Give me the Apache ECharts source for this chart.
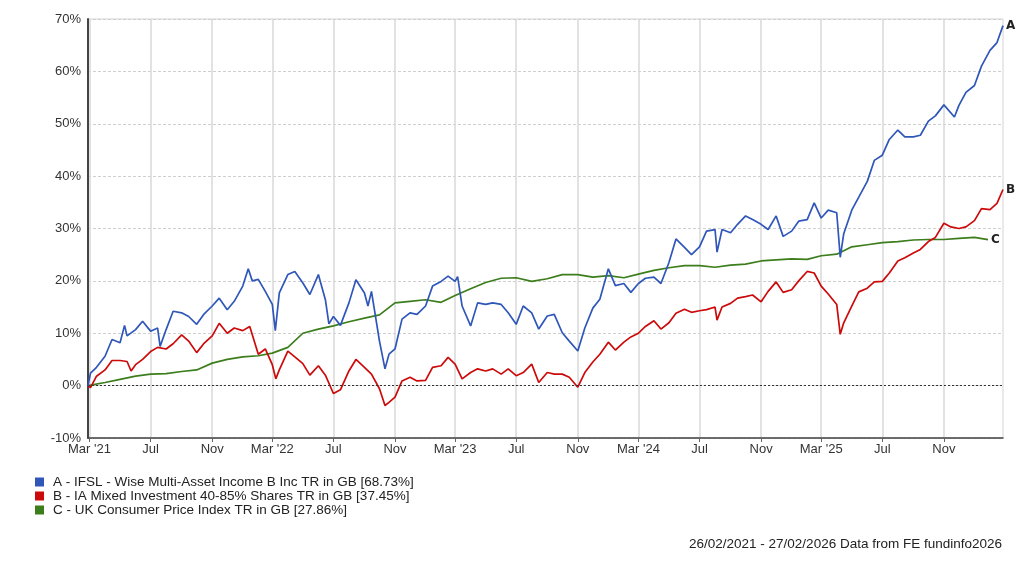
<!DOCTYPE html>
<html><head><meta charset="utf-8">
<script src="https://cdn.jsdelivr.net/npm/echarts@6/dist/echarts.min.js"></script>
<style>html,body{margin:0;padding:0;background:#fff}#c{width:1024px;height:563px}</style>
</head><body><div id="c"></div>
<script>
const seriesNames = [
  'A - IFSL - Wise Multi-Asset Income B Inc TR in GB [68.73%]',
  'B - IA Mixed Investment 40-85% Shares TR in GB [37.45%]',
  'C - UK Consumer Price Index TR in GB [27.86%]'
];
const endLetters = ['A', 'B', 'C'];
const footerText = '26/02/2021 - 27/02/2026 Data from FE fundinfo2026';

const datesA = ['2021-02-26','2021-03-03','2021-03-15','2021-04-01','2021-04-15','2021-05-01','2021-05-10','2021-05-15','2021-06-01','2021-06-15','2021-07-01','2021-07-15','2021-07-20','2021-08-01','2021-08-15','2021-09-01','2021-09-15','2021-10-01','2021-10-15','2021-11-01','2021-11-15','2021-12-01','2021-12-15','2022-01-01','2022-01-12','2022-01-20','2022-02-01','2022-02-15','2022-03-01','2022-03-07','2022-03-15','2022-04-01','2022-04-15','2022-05-01','2022-05-15','2022-06-01','2022-06-15','2022-06-22','2022-07-01','2022-07-15','2022-08-01','2022-08-15','2022-09-01','2022-09-08','2022-09-15','2022-10-01','2022-10-12','2022-10-20','2022-11-01','2022-11-15','2022-12-01','2022-12-15','2023-01-01','2023-01-15','2023-02-01','2023-02-15','2023-03-01','2023-03-06','2023-03-15','2023-04-01','2023-04-15','2023-05-01','2023-05-15','2023-06-01','2023-06-15','2023-07-01','2023-07-15','2023-08-01','2023-08-15','2023-09-01','2023-09-15','2023-10-01','2023-10-15','2023-11-01','2023-11-15','2023-12-01','2023-12-15','2024-01-01','2024-01-15','2024-02-01','2024-02-15','2024-03-01','2024-03-15','2024-04-01','2024-04-15','2024-05-01','2024-05-15','2024-06-01','2024-06-15','2024-07-01','2024-07-15','2024-08-01','2024-08-05','2024-08-15','2024-09-01','2024-09-15','2024-10-01','2024-10-15','2024-11-01','2024-11-15','2024-12-01','2024-12-15','2025-01-01','2025-01-15','2025-02-01','2025-02-15','2025-03-01','2025-03-15','2025-04-01','2025-04-08','2025-04-15','2025-05-01','2025-05-15','2025-06-01','2025-06-15','2025-07-01','2025-07-15','2025-08-01','2025-08-15','2025-09-01','2025-09-15','2025-10-01','2025-10-15','2025-11-01','2025-11-22','2025-12-01','2025-12-15','2026-01-01','2026-01-15','2026-02-01','2026-02-15','2026-02-27'];
const valuesA = [0,2.4,3.5,5.6,8.8,8.2,11.5,9.5,10.7,12.3,10.4,11,7.5,10.7,14.2,13.9,13.2,11.7,13.6,15.2,16.7,14.5,16.1,19,22.3,20,20.3,18,15.5,10.5,17.7,21.2,21.8,19.6,17.4,21.2,16.4,11.8,13.2,11.5,15.8,20.2,17.7,15.2,18,8.5,3.2,6,7,12.7,13.9,13.6,15.2,19,19.9,20.9,19.9,20.8,15.2,11.4,15.8,15.5,15.8,15.5,13.9,11.7,15.2,13.9,10.8,13.3,13.6,10.1,8.5,6.6,11,14.8,16.5,22.3,19.1,19.5,17.8,19.5,20.5,20.7,19.5,23.5,28,26.4,25,26.5,29.5,29.8,25.5,29.8,29.2,30.8,32.4,31.7,30.8,29.8,32.4,28.5,29.5,31.4,31.7,34.9,32,33.5,33,24.5,29,33.5,36,39,43,44,47,48.8,47.5,47.5,47.8,50.5,51.5,53.6,51.3,53.5,56,57.3,61,64,65.5,68.73];

const datesB = ['2021-02-26','2021-03-03','2021-03-15','2021-04-01','2021-04-15','2021-05-01','2021-05-15','2021-05-23','2021-06-01','2021-06-15','2021-07-01','2021-07-15','2021-08-01','2021-08-15','2021-09-01','2021-09-15','2021-10-01','2021-10-15','2021-11-01','2021-11-15','2021-12-01','2021-12-15','2022-01-01','2022-01-15','2022-02-01','2022-02-15','2022-03-01','2022-03-08','2022-03-15','2022-04-01','2022-04-15','2022-05-01','2022-05-15','2022-06-01','2022-06-15','2022-07-01','2022-07-15','2022-08-01','2022-08-15','2022-09-01','2022-09-15','2022-10-01','2022-10-12','2022-10-20','2022-11-01','2022-11-15','2022-12-01','2022-12-15','2023-01-01','2023-01-15','2023-02-01','2023-02-15','2023-03-01','2023-03-15','2023-04-01','2023-04-15','2023-05-01','2023-05-15','2023-06-01','2023-06-15','2023-07-01','2023-07-15','2023-08-01','2023-08-15','2023-09-01','2023-09-15','2023-10-01','2023-10-15','2023-11-01','2023-11-15','2023-12-01','2023-12-15','2024-01-01','2024-01-15','2024-02-01','2024-02-15','2024-03-01','2024-03-15','2024-04-01','2024-04-15','2024-05-01','2024-05-15','2024-06-01','2024-06-15','2024-07-01','2024-07-15','2024-08-01','2024-08-05','2024-08-15','2024-09-01','2024-09-15','2024-10-01','2024-10-15','2024-11-01','2024-11-15','2024-12-01','2024-12-15','2025-01-01','2025-01-15','2025-02-01','2025-02-15','2025-03-01','2025-03-15','2025-04-01','2025-04-08','2025-04-15','2025-05-01','2025-05-15','2025-06-01','2025-06-15','2025-07-01','2025-07-15','2025-08-01','2025-08-15','2025-09-01','2025-09-15','2025-10-01','2025-10-15','2025-11-01','2025-11-15','2025-12-01','2025-12-15','2026-01-01','2026-01-15','2026-02-01','2026-02-15','2026-02-27'];
const valuesB = [0,-0.4,1.8,3,4.8,4.8,4.6,2.8,4,5,6.5,7.3,7,8,9.7,8.5,6.3,8,9.5,11.9,10,11,10.5,11.3,6,7,4,1.3,3,6.6,5.5,4.2,2,3.8,2,-1.5,-0.8,2.8,5,3.5,2.2,-0.6,-3.8,-3.2,-2.2,0.9,1.6,0.9,1,3.5,3.8,5.4,4.1,1.3,2.5,3.2,2.8,3.2,2.2,3.2,1.9,2.5,4.1,0.6,2.5,2.2,2.2,1.6,-0.3,2.5,4.5,6,8.3,6.8,8.3,9.3,10,11.3,12.4,10.8,12,13.8,14.6,14,14.3,14.5,15,12.5,15,15.7,16.7,17,17.3,16,18,19.8,17.8,18.3,20,21.8,21.5,19,17.5,15.5,9.8,12,15.2,17.9,18.6,19.8,19.9,21.5,23.8,24.4,25.3,26,27.5,28.3,31,30.3,30,30.3,31.5,33.8,33.6,34.8,37.45];

const datesC = ['2021-02-26','2021-03-01','2021-04-01','2021-05-01','2021-06-01','2021-07-01','2021-08-01','2021-09-01','2021-10-01','2021-11-01','2021-12-01','2022-01-01','2022-02-01','2022-03-01','2022-04-01','2022-05-01','2022-06-01','2022-07-01','2022-08-01','2022-09-01','2022-10-01','2022-11-01','2022-12-01','2023-01-01','2023-02-01','2023-03-01','2023-04-01','2023-05-01','2023-06-01','2023-07-01','2023-08-01','2023-09-01','2023-10-01','2023-11-01','2023-12-01','2024-01-01','2024-02-01','2024-03-01','2024-04-01','2024-05-01','2024-06-01','2024-07-01','2024-08-01','2024-09-01','2024-10-01','2024-11-01','2024-12-01','2025-01-01','2025-02-01','2025-03-01','2025-04-01','2025-05-01','2025-06-01','2025-07-01','2025-08-01','2025-09-01','2025-10-01','2025-11-01','2025-12-01','2026-01-01','2026-01-28'];
const valuesC = [0,0.1,0.6,1.2,1.8,2.2,2.3,2.7,3.0,4.3,5.0,5.5,5.7,6.2,7.3,10.0,10.8,11.4,12.2,12.9,13.5,15.8,16.1,16.4,15.9,17.2,18.5,19.7,20.5,20.6,19.9,20.4,21.2,21.2,20.7,21.0,20.6,21.3,22.0,22.5,22.9,22.9,22.6,23.0,23.2,23.8,24.0,24.2,24.1,24.8,25.1,26.5,26.9,27.3,27.5,27.8,27.9,27.9,28.1,28.3,27.86];

const xTickDates = ['2021-03-01','2021-07-01','2021-11-01','2022-03-01','2022-07-01','2022-11-01','2023-03-01','2023-07-01','2023-11-01','2024-03-01','2024-07-01','2024-11-01','2025-03-01','2025-07-01','2025-11-01'];
const xStart = '2021-02-26';
const xEnd = '2026-02-27';
const yMin = -10, yMax = 70, yStep = 10;
const colors = ['#2f56b9', '#cc0a0a', '#3c7d1c'];

const ts = s => Date.parse(s);
const monthNames = ['Jan','Feb','Mar','Apr','May','Jun','Jul','Aug','Sep','Oct','Nov','Dec'];
function pairs(d, v) { return d.map((x, i) => [ts(x), v[i]]); }

const chart = echarts.init(document.getElementById('c'), null, {renderer: 'canvas'});
const font = 'Liberation Sans, Arial, sans-serif';
const allData = [pairs(datesA, valuesA), pairs(datesB, valuesB), pairs(datesC, valuesC)];
const tickTs = xTickDates.map(ts);

chart.setOption({
  animation: false,
  backgroundColor: '#fff',
  textStyle: {fontFamily: font},
  grid: {left: 88, right: 21, top: 19, bottom: 125, show: true, borderColor: '#d4d4d4', borderWidth: 1, containLabel: false},
  legend: {
    orient: 'vertical', left: 35, top: 475, padding: 0, itemWidth: 9, itemHeight: 9, itemGap: 0,
    icon: 'rect', textStyle: {fontSize: 13.5, lineHeight: 14, height: 14, color: '#222', fontFamily: font, padding: [0, 0, 0, 4]},
    data: seriesNames
  },
  graphic: [{
    type: 'text', right: 22, top: 537,
    style: {text: footerText, font: '13.5px ' + font, fill: '#222'}
  }],
  xAxis: {
    type: 'value', min: ts(xStart), max: ts(xEnd),
    axisLine: {onZero: false, lineStyle: {color: '#444', width: 1.5}},
    axisTick: {show: true, length: 4, lineStyle: {color: '#666'}, customValues: tickTs},
    axisLabel: {
      customValues: tickTs, color: '#333', fontSize: 13, margin: 5, fontFamily: font,
      formatter: v => { const d = new Date(v); const m = d.getUTCMonth(); return m === 2 ? "Mar '" + String(d.getUTCFullYear()).slice(2) : monthNames[m]; }
    },
    splitLine: {show: true, lineStyle: {color: '#d8d8d8', width: 1.5, type: 'solid'}}
  },
  yAxis: {
    type: 'value', min: yMin, max: yMax, interval: yStep,
    axisLine: {show: true, lineStyle: {color: '#444', width: 2}},
    axisTick: {show: false},
    axisLabel: {formatter: '{value}%', color: '#333', fontSize: 13, margin: 7, fontFamily: font},
    splitLine: {show: true, lineStyle: {color: '#cfcfcf', width: 1, type: [3, 2]}}
  },
  series: allData.map((d, i) => ({
    name: seriesNames[i], type: 'line', data: d, showSymbol: false, symbol: 'none',
    color: colors[i], lineStyle: {width: 1.7, color: colors[i]}, z: 5 - i,
    endLabel: {show: true, formatter: endLetters[i], color: '#222', fontWeight: 'bold', fontSize: 12, distance: 3, fontFamily: 'DejaVu Sans, sans-serif'},
    markLine: i === 0 ? {
      silent: true, symbol: 'none', label: {show: false},
      lineStyle: {color: '#333', width: 1, type: [2, 2]},
      data: [{yAxis: 0}]
    } : undefined
  }))
});
</script></body></html>
